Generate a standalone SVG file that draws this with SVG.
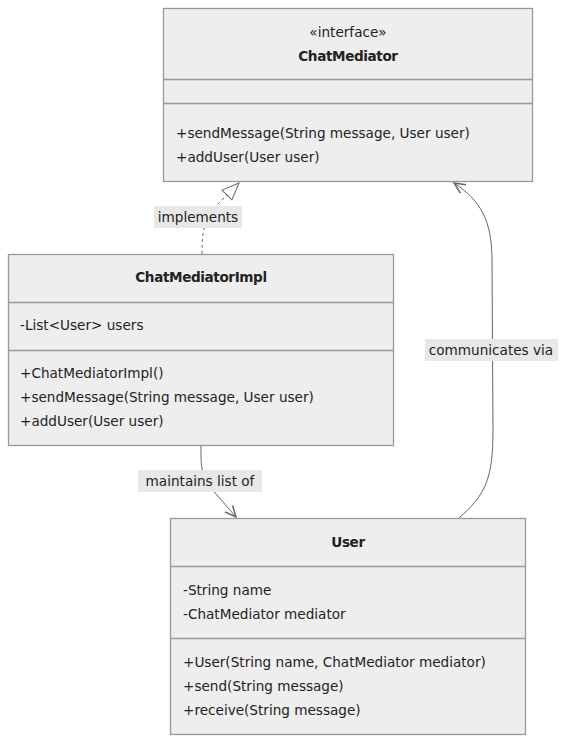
<svg xmlns="http://www.w3.org/2000/svg" width="567" height="743" viewBox="0 0 567 743">
<style>
.box{fill:#eeeeee;stroke:#999999;stroke-width:1.3}
.div{stroke:#999999;stroke-width:1.3}
text{font-family:"DejaVu Sans",Verdana,sans-serif;font-size:13.6px;fill:#222222}
.t{font-weight:bold;text-anchor:middle;letter-spacing:-0.4px}
.c{text-anchor:middle}
.edge{fill:none;stroke:#666666;stroke-width:1}
.lbg{fill:#e8e8e8}
</style>
<defs>
<marker id="tri" markerWidth="20" markerHeight="20" refX="18" refY="8" orient="auto" markerUnits="userSpaceOnUse">
<path d="M18,8 L1,1 L1,15 Z" fill="#ffffff" stroke="#666666" stroke-width="1"/>
</marker>
<marker id="arr" markerWidth="14" markerHeight="14" refX="12" refY="6" orient="auto" markerUnits="userSpaceOnUse">
<path d="M1,1 L12,6 L1,11" fill="none" stroke="#666666" stroke-width="1.5"/>
</marker>
</defs>
<g id="connectors">
<path class="edge" d="M202,254 C202,238 203,225 210,212 L239,183" stroke-dasharray="3,3" marker-end="url(#tri)"/>
<path class="edge" d="M201,445 C201,465 200,470 210,487 L236,517" marker-end="url(#arr)"/>
<path class="edge" d="M459,518 C485,495 493,480 493,430 L492,260 C492,220 480,200 454,183" marker-end="url(#arr)"/>
<rect class="lbg" x="154" y="206" width="88" height="22"/>
<text class="c" x="198" y="222">implements</text>
<rect class="lbg" x="138" y="470" width="124" height="22"/>
<text class="c" x="200" y="486">maintains list of</text>
<rect class="lbg" x="425" y="339" width="133" height="22"/>
<text class="c" x="491" y="355">communicates via</text>
</g>
<g id="ChatMediator">
<rect class="box" x="163.5" y="8.5" width="369" height="173"/>
<line class="div" x1="163.5" y1="79.5" x2="532.5" y2="79.5"/>
<line class="div" x1="163.5" y1="103.5" x2="532.5" y2="103.5"/>
<text class="c" x="348" y="37">«interface»</text>
<text class="t" x="348" y="61">ChatMediator</text>
<text x="176" y="138">+sendMessage(String message, User user)</text>
<text x="176" y="162">+addUser(User user)</text>
</g>
<g id="ChatMediatorImpl">
<rect class="box" x="8.5" y="254.5" width="385" height="191"/>
<line class="div" x1="8.5" y1="302.5" x2="393.5" y2="302.5"/>
<line class="div" x1="8.5" y1="350.5" x2="393.5" y2="350.5"/>
<text class="t" x="201" y="282">ChatMediatorImpl</text>
<text x="20" y="330">-List&lt;User&gt; users</text>
<text x="20" y="378">+ChatMediatorImpl()</text>
<text x="20" y="402">+sendMessage(String message, User user)</text>
<text x="20" y="426">+addUser(User user)</text>
</g>
<g id="User">
<rect class="box" x="170.5" y="518.5" width="355" height="216"/>
<line class="div" x1="170.5" y1="566.5" x2="525.5" y2="566.5"/>
<line class="div" x1="170.5" y1="638.5" x2="525.5" y2="638.5"/>
<text class="t" x="348" y="547">User</text>
<text x="183" y="595">-String name</text>
<text x="183" y="619">-ChatMediator mediator</text>
<text x="183" y="667">+User(String name, ChatMediator mediator)</text>
<text x="183" y="691">+send(String message)</text>
<text x="183" y="715">+receive(String message)</text>
</g>
</svg>
